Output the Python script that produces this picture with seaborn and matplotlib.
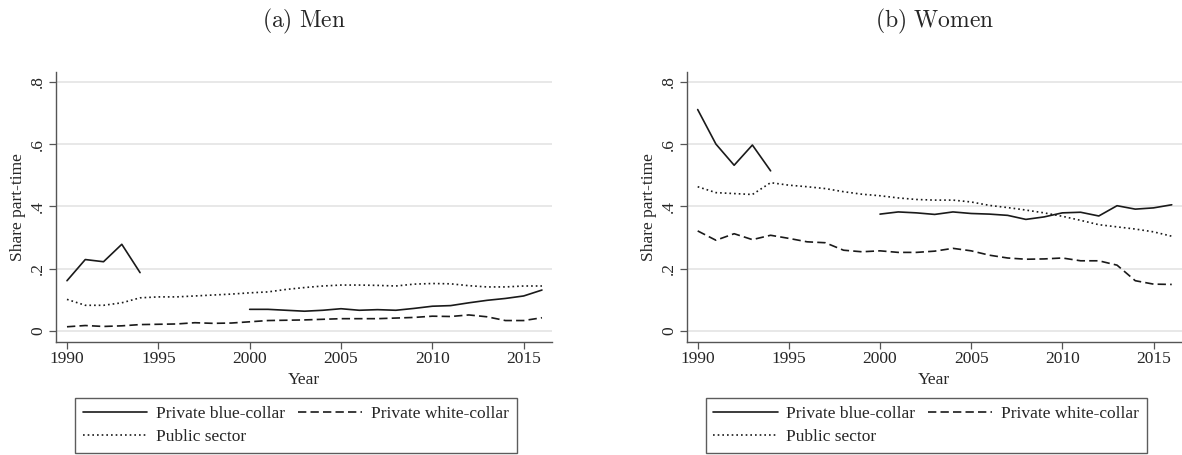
import numpy as np
import pandas as pd
import matplotlib
matplotlib.use("Agg")
import matplotlib.pyplot as plt
from matplotlib.lines import Line2D
import seaborn as sns

#%% Data

years = list(range(1990, 2017))
years_early = list(range(1990, 1995))
years_late = list(range(2000, 2017))

# Men
men_blue_early = [0.161, 0.229, 0.222, 0.278, 0.187]
men_blue_late = [0.069, 0.069, 0.066, 0.063, 0.066, 0.071, 0.066, 0.068, 0.066,
                 0.072, 0.079, 0.081, 0.090, 0.098, 0.104, 0.112, 0.131]
men_white = [0.013, 0.017, 0.014, 0.016, 0.020, 0.021, 0.022, 0.026, 0.024, 0.025,
             0.029, 0.033, 0.034, 0.035, 0.037, 0.039, 0.039, 0.039, 0.041,
             0.043, 0.047, 0.046, 0.051, 0.045, 0.033, 0.033, 0.042]
men_public = [0.101, 0.082, 0.082, 0.090, 0.106, 0.109, 0.109, 0.112, 0.115, 0.118,
              0.122, 0.125, 0.133, 0.139, 0.144, 0.147, 0.147, 0.146, 0.144,
              0.150, 0.152, 0.151, 0.145, 0.141, 0.141, 0.144, 0.144]

# Women
women_blue_early = [0.711, 0.600, 0.532, 0.597, 0.514]
women_blue_late = [0.375, 0.382, 0.379, 0.374, 0.382, 0.377, 0.375, 0.371, 0.358,
                   0.366, 0.379, 0.381, 0.369, 0.402, 0.391, 0.395, 0.405]
women_white = [0.321, 0.291, 0.312, 0.293, 0.307, 0.297, 0.286, 0.283, 0.259, 0.254,
               0.257, 0.252, 0.252, 0.256, 0.265, 0.257, 0.243, 0.234, 0.230,
               0.231, 0.234, 0.225, 0.225, 0.211, 0.161, 0.150, 0.149]
women_public = [0.463, 0.444, 0.441, 0.438, 0.476, 0.468, 0.463, 0.457, 0.447, 0.439,
                0.434, 0.427, 0.422, 0.420, 0.420, 0.414, 0.403, 0.396, 0.388,
                0.379, 0.368, 0.355, 0.341, 0.334, 0.327, 0.318, 0.304]

groups = ["Private blue-collar", "Private white-collar", "Public sector"]
panel_titles = [r"$\mathrm{(a)\ Men}$", r"$\mathrm{(b)\ Women}$"]


def long_frame(blue_early, blue_late, white, public):
    parts = [
        pd.DataFrame({"Year": years_early, "share": blue_early,
                      "group": groups[0], "part": "blue1"}),
        pd.DataFrame({"Year": years_late, "share": blue_late,
                      "group": groups[0], "part": "blue2"}),
        pd.DataFrame({"Year": years, "share": white,
                      "group": groups[1], "part": "white"}),
        pd.DataFrame({"Year": years, "share": public,
                      "group": groups[2], "part": "public"}),
    ]
    return pd.concat(parts, ignore_index=True)


frames = [long_frame(men_blue_early, men_blue_late, men_white, men_public),
          long_frame(women_blue_early, women_blue_late, women_white, women_public)]

#%% Plot

sns.set_style("white")
plt.rcParams["font.family"] = ["Liberation Serif", "DejaVu Serif"]
plt.rcParams["mathtext.fontset"] = "cm"

line_col = "#1a1a1a"
dash_map = {groups[0]: "", groups[1]: (5, 2.5), groups[2]: (1, 1.8)}
fs = 12.5

fig = plt.figure(figsize=(11.82, 4.55), dpi=100)
axes = [fig.add_axes([0.0474, 0.249, 0.4196, 0.593]),
        fig.add_axes([0.5810, 0.249, 0.4188, 0.593])]

for ax, df, title in zip(axes, frames, panel_titles):
    sns.lineplot(data=df, x="Year", y="share", style="group", units="part",
                 estimator=None, dashes=dash_map, color=line_col, lw=1.2,
                 ax=ax, legend=False)
    ax.set_xlim(1989.4, 2016.55)
    ax.set_ylim(-0.035, 0.832)
    ax.set_xticks([1990, 1995, 2000, 2005, 2010, 2015])
    ax.set_yticks([0, 0.2, 0.4, 0.6, 0.8])
    ax.set_yticklabels(["0", ".2", ".4", ".6", ".8"], rotation=90, va="center")
    ax.tick_params(axis="both", labelsize=fs, length=5, width=0.9,
                   color="#555555", direction="out", bottom=True, left=True, pad=2)
    ax.yaxis.grid(True, color="#e6e6e6", lw=1.3)
    ax.set_axisbelow(True)
    for s in ["top", "right"]:
        ax.spines[s].set_visible(False)
    for s in ["left", "bottom"]:
        ax.spines[s].set_color("#555555")
        ax.spines[s].set_linewidth(1.0)
    ax.set_xlabel("Year", fontsize=fs, labelpad=3)
    ax.set_ylabel("Share part-time", fontsize=fs, labelpad=3)
    ax.set_title(title, fontsize=17, pad=32)

    handles = [Line2D([], [], color=line_col, lw=1.2, linestyle="-"),
               Line2D([], [], color=line_col, lw=1.2, linestyle=(0, (1, 1.8))),
               Line2D([], [], color=line_col, lw=1.2, linestyle=(0, (5, 2.5)))]
    labels = [groups[0], groups[2], groups[1]]
    leg = ax.legend(handles, labels, ncol=2, loc="upper left",
                    bbox_to_anchor=(0.038, -0.208, 0.891, 0.0), mode="expand",
                    frameon=True, fancybox=False, edgecolor="#333333",
                    fontsize=fs, handlelength=3.7, handletextpad=0.5,
                    columnspacing=1.3, labelspacing=0.4, borderpad=0.45,
                    borderaxespad=0)
    leg.get_frame().set_linewidth(1.0)

fig.savefig("out.png", dpi=100)
